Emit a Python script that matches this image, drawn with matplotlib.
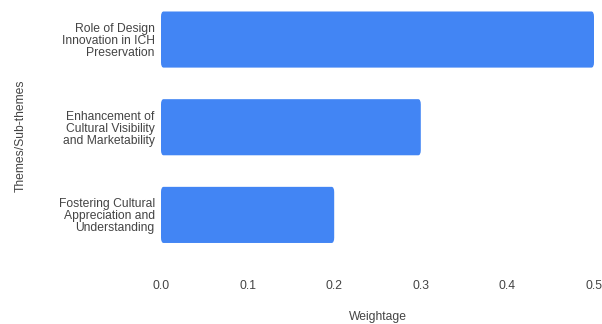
import matplotlib
matplotlib.use("Agg")
import matplotlib.pyplot as plt
from matplotlib.patches import FancyBboxPatch

# data
themes = [
    "Role of Design\nInnovation in ICH\nPreservation",
    "Enhancement of\nCultural Visibility\nand Marketability",
    "Fostering Cultural\nAppreciation and\nUnderstanding",
]
weightage = [0.5, 0.3, 0.2]
x_ticks = [0.0, 0.1, 0.2, 0.3, 0.4, 0.5]

plt.rcParams["font.family"] = ["Liberation Sans", "DejaVu Sans"]
text_color = "#444444"
fs = 8.7

fig = plt.figure(figsize=(6.02, 3.24), dpi=100)
ax = fig.add_axes([161 / 602, 1 - 258.75 / 324, 433 / 602, 258.75 / 324])

y_pos = list(range(len(themes)))
bars = ax.barh(y_pos, weightage, height=0.64, color="#4285F4")

# slightly rounded corners like the original
for b in bars:
    b.set_visible(False)
    p = FancyBboxPatch((b.get_x(), b.get_y()), b.get_width(), b.get_height(),
                       boxstyle="round,pad=0,rounding_size=0.003",
                       mutation_aspect=20, color="#4285F4", linewidth=0)
    ax.add_patch(p)

ax.set_xlim(0, 0.5)
ax.set_ylim(2.5, -0.451)
ax.set_xticks(x_ticks)
ax.set_xticklabels([f"{t:.1f}" for t in x_ticks])
ax.set_yticks(y_pos)
ax.set_yticklabels(themes, linespacing=1.0)

ax.tick_params(axis="x", length=0, pad=15, labelsize=fs, labelcolor=text_color)
ax.tick_params(axis="y", length=0, pad=4.5, labelsize=fs, labelcolor=text_color)
for s in ax.spines.values():
    s.set_visible(False)

fig.text(378 / 602, 1 - 317 / 324, "Weightage", ha="center", va="center",
         fontsize=fs, color=text_color)
fig.text(21 / 602, 1 - 136 / 324, "Themes/Sub-themes", ha="center", va="center",
         rotation=90, fontsize=fs, color=text_color)

fig.savefig("out.png", dpi=100)
